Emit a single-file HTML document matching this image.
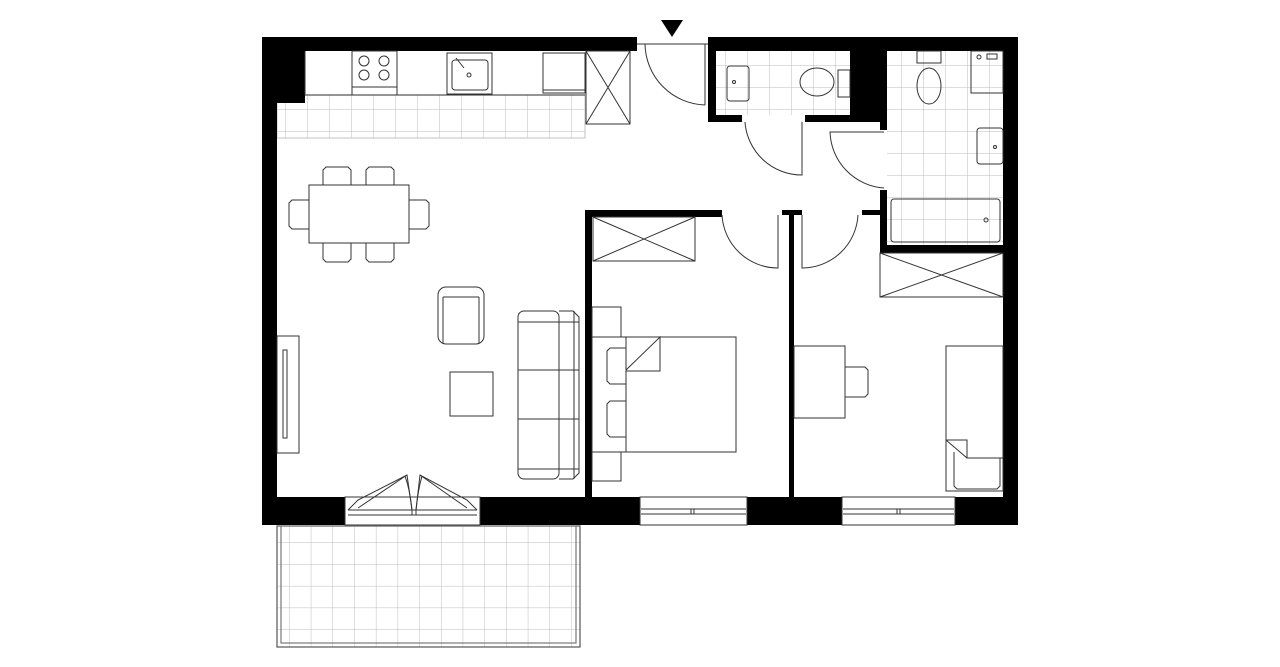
<!DOCTYPE html>
<html><head><meta charset="utf-8"><style>html,body{margin:0;padding:0;background:#fff}svg{display:block}</style></head>
<body>
<svg width="1280" height="667" viewBox="0 0 1280 667" xmlns="http://www.w3.org/2000/svg">
<defs>
<pattern id="tile" width="22" height="22" patternUnits="userSpaceOnUse">
<path d="M22 0V22M0 22H22" fill="none" stroke="#bbb" stroke-width="1"/>
</pattern>
<pattern id="tileb" x="7" width="21.7" height="21.7" patternUnits="userSpaceOnUse">
<path d="M0 0V21.7M0 0H21.7" fill="none" stroke="#bbb" stroke-width="1"/>
</pattern>
</defs>
<g fill="none" stroke="#333" stroke-width="1.2">
<!-- tiles -->
<rect x="277" y="95" width="308" height="43" fill="url(#tile)" stroke="#ccc"/>
<rect x="716" y="51" width="134" height="64" fill="url(#tile)" stroke="none"/>
<rect x="887" y="51" width="116" height="194" fill="url(#tile)" stroke="none"/>
<!-- balcony -->
<rect x="277" y="526" width="303" height="121" fill="url(#tileb)" stroke="#555"/>
<rect x="281" y="526" width="295" height="117" stroke="#777"/>
</g>
<!-- walls -->
<g fill="#000">
<rect x="262" y="37" width="375" height="14"/>
<rect x="262" y="37" width="15" height="488"/>
<rect x="262" y="37" width="43" height="66"/>
<rect x="708" y="37" width="310" height="14"/>
<rect x="1003" y="37" width="15" height="488"/>
<rect x="262" y="497" width="756" height="28"/>
<rect x="708" y="37" width="8" height="85"/>
<rect x="708" y="115" width="34" height="7"/>
<rect x="805" y="115" width="82" height="7"/>
<rect x="850" y="51" width="37" height="71"/>
<rect x="880" y="115" width="7" height="15"/>
<rect x="880" y="190" width="7" height="63"/>
<rect x="880" y="245" width="123" height="8"/>
<rect x="585" y="210" width="137" height="7"/>
<rect x="585" y="210" width="7" height="287"/>
<rect x="782" y="210" width="20" height="5"/>
<rect x="789" y="210" width="5" height="287"/>
<rect x="862" y="210" width="20" height="5"/>
<polygon points="661,20 683,20 672,37"/>
</g>
<!-- window openings -->
<g fill="#fff" stroke="#333" stroke-width="1">
<rect x="345" y="497" width="135" height="28"/>
<rect x="640" y="497" width="107" height="28"/>
<rect x="842" y="497" width="113" height="28"/>
</g>
<g fill="none" stroke="#333" stroke-width="1">
<path d="M348 510H477M348 515H477M412 510V515M416 510V515"/>
<path d="M641 509H746M641 514H746M691 509V514M694 509V514"/>
<path d="M843 509H954M843 514H954M897 509V514M900 509V514"/>
<!-- balcony doors -->
<path d="M348 510L358 500L407 475L412 510M477 510L467 500L420 475L416 510"/>
<path d="M358 508L407 475M467 508L420 475"/>
<path d="M412 510Q410 490 405 476M416 510Q418 490 422 476"/>
<!-- entrance door -->
<path d="M637 44H708"/>
<path d="M705 44V105M705 105A62 62 0 0 1 645 44"/>
<!-- kitchen counter -->
<path d="M305 51V95H585"/>
<rect x="352" y="51" width="45" height="44"/>
<path d="M352 87H397"/>
<circle cx="364" cy="61" r="5"/><circle cx="384" cy="61" r="5"/>
<circle cx="364" cy="75" r="5"/><circle cx="384" cy="75" r="5"/>
<rect x="447" y="53" width="45" height="41"/><rect x="452" y="60" width="36" height="30" rx="3"/>
<circle cx="469" cy="75" r="2"/><path d="M456 58L464 68"/>
<rect x="543" y="53" width="42" height="40"/><path d="M543 90H585"/>
<rect x="586" y="51" width="44" height="73"/><path d="M586 51L630 124M630 51L586 124"/>
<!-- dining -->
<rect x="309" y="185" width="100" height="58"/>
<path d="M323 185V170l3-3h22l3 3v15M366 185V170l3-3h22l3 3v15"/>
<path d="M323 243v16l3 3h22l3-3v-16M366 243v16l3 3h22l3-3v-16"/>
<path d="M309 200h-17l-3 3v23l3 3h17M409 200h17l3 3v23l-3 3h-17"/>
<!-- TV -->
<rect x="277" y="336" width="22" height="117"/>
<rect x="283" y="350" width="4" height="88"/>
<!-- armchair -->
<rect x="438" y="287" width="46" height="57" rx="8"/>
<path d="M443 297h36M443 297v46M479 297v46"/>
<rect x="450" y="372" width="43" height="44"/>
<!-- sofa -->
<rect x="518" y="311" width="41" height="168" rx="6"/>
<path d="M518 322H579M518 370H579M518 419H579M518 469H579M574 311V479"/>
<path d="M559 311h14l6 6v156l-6 6h-14"/>
<!-- bedroom1 wardrobe -->
<rect x="593" y="217" width="102" height="44"/><path d="M593 217L695 261M695 217L593 261"/>
<path d="M722 215A56 56 0 0 0 778 268V215"/>
<path d="M802 215V268A56 56 0 0 0 858 215"/>
<!-- bed1 -->
<rect x="592" y="307" width="29" height="30"/><rect x="592" y="452" width="29" height="29"/>
<rect x="592" y="337" width="144" height="115"/>
<path d="M626 337V452"/>
<path d="M626 370L660 337V371H626"/>
<path d="M626 348H610l-3 3v30l3 3h16M626 401H610l-3 3v30l3 3h16"/>
<!-- bedroom2 -->
<rect x="880" y="253" width="123" height="44"/><path d="M880 297L1003 253M1003 297L880 253"/>
<rect x="794" y="346" width="51" height="72"/>
<path d="M845 367h20l3 3v24l-3 3h-20"/>
<rect x="946" y="346" width="57" height="145"/>
<path d="M946 440h21v18h36M946 440L967 458"/>
<path d="M954 452v34l3 3h40l3-3v-28"/>
<!-- WC -->
<path d="M745 122A57 57 0 0 0 802 175V122"/>
<rect x="727" y="66" width="22" height="35" rx="3"/><circle cx="734" cy="82" r="1.5"/>
<ellipse cx="817" cy="82" rx="17" ry="14"/><rect x="838" y="70" width="12" height="27"/>
<!-- bathroom -->
<path d="M884 132H830A58 58 0 0 0 884 188"/>
<rect x="917" y="51" width="24" height="12"/><ellipse cx="929" cy="86" rx="12" ry="18"/>
<rect x="971" y="51" width="32" height="42"/><circle cx="979" cy="57" r="2"/><path d="M987 54h10v5h-10z"/>
<rect x="977" y="128" width="26" height="36" rx="3"/><circle cx="995" cy="147" r="1.5"/>
<rect x="891" y="199" width="109" height="43" rx="3"/><circle cx="986" cy="220" r="2"/>
</g>
</svg>
</body></html>
